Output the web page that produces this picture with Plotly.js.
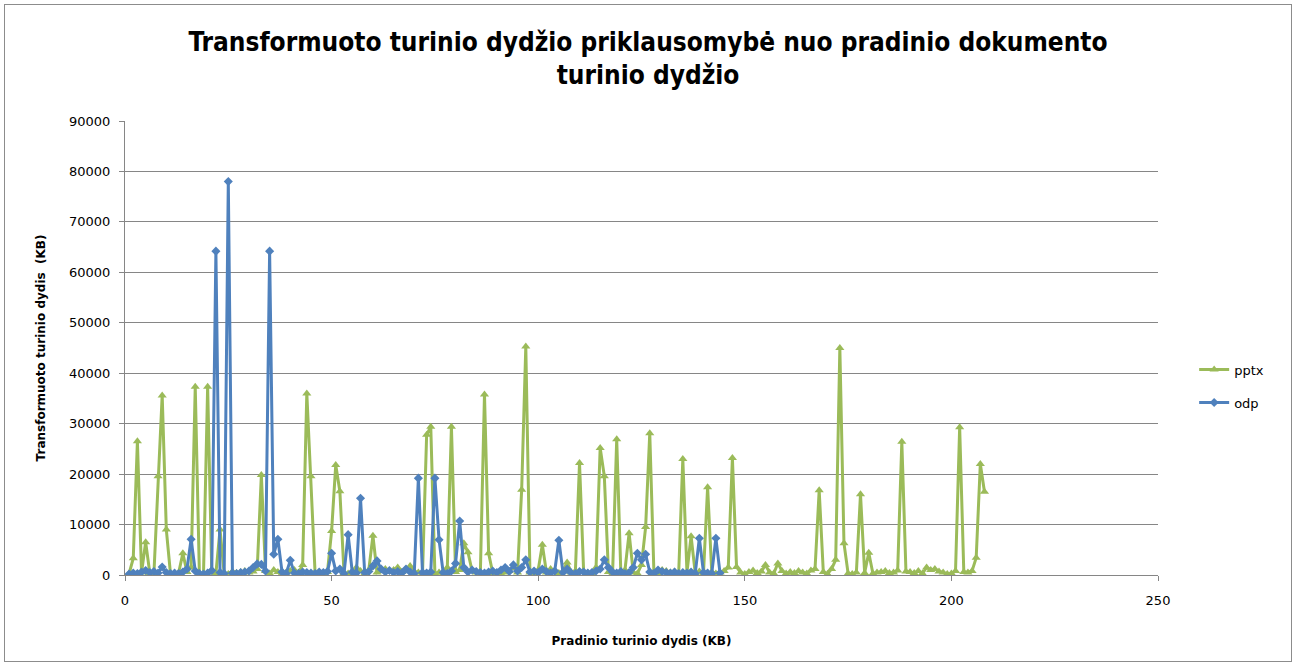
<!DOCTYPE html>
<html>
<head>
<meta charset="utf-8">
<script src="https://cdn.plot.ly/plotly-3.0.1.min.js"></script>
<style>
  html, body { margin: 0; padding: 0; background: #fff; }
  #chart { width: 1296px; height: 665px; }
  #frame { position: absolute; left: 4px; top: 4px; width: 1286px; height: 656px; border: 1px solid #8c8c8c; pointer-events: none; }
</style>
</head>
<body>
<div id="chart"></div>
<div id="frame"></div>
<script>
const seriesNames = ["pptx", "odp"];
const xStart = 1;
const pptxValues = [
  300, 3300, 26500, 500, 6500, 400, 300, 19600, 35600, 9000,
  300, 200, 500, 4300, 600, 1500, 37300, 300, 200, 37300,
  500, 300, 9000, 300, 200, 700, 400, 600, 800, 500,
  700, 1200, 19800, 800, 300, 1000, 600, 300, 500, 800,
  1000, 500, 2000, 36000, 19600, 500, 300, 200, 600, 8700,
  21800, 16600, 400, 300, 500, 1500, 800, 300, 1000, 7800,
  500, 800, 1200, 600, 1000, 1500, 600, 1200, 1800, 700,
  500, 300, 27800, 29400, 300, 500, 200, 1500, 29400, 600,
  1000, 6300, 4500, 800, 500, 300, 35800, 4300, 400, 300,
  200, 500, 800, 1500, 500, 16900, 45300, 500, 300, 1000,
  6000, 500, 1200, 800, 400, 700, 2500, 500, 800, 22200,
  600, 400, 300, 1500, 25200, 19600, 600, 300, 26900, 400,
  1000, 8300, 500, 300, 2000, 9500, 28100, 600, 300, 1000,
  800, 500, 700, 400, 23000, 500, 7700, 400, 700, 300,
  17400, 600, 300, 500, 800, 1500, 23200, 1600, 500, 200,
  600, 900, 400, 700, 2000, 500, 300, 2300, 800, 300,
  600, 400, 800, 500, 300, 900, 1200, 16800, 600, 200,
  1200, 3000, 45000, 6300, 300, 200, 500, 16000, 400, 4400,
  300, 500, 600, 800, 400, 500, 900, 26400, 700, 600,
  400, 800, 300, 1500, 1000, 1200, 700, 500, 200, 300,
  800, 29300, 600, 500, 800, 3400, 22000, 16500
];
const odpValues = [
  200, 400, 300, 600, 900, 500, 700, 400, 1600, 500,
  300, 400, 300, 600, 1200, 7100, 800, 300, 200, 400,
  900, 64200, 500, 300, 78000, 400, 300, 500, 600, 800,
  1500, 2200, 2100, 800, 64200, 4100, 7100, 600, 300, 2900,
  400, 300, 600, 500, 400, 300, 600, 500, 700, 4300,
  800, 1200, 300, 8000, 600, 400, 15200, 500, 700, 1800,
  2800, 1200, 600, 900, 500, 700, 400, 1200, 600, 300,
  19200, 500, 400, 600, 19200, 7000, 500, 300, 800, 2300,
  10700, 1500, 600, 1000, 700, 500, 400, 600, 800, 500,
  1000, 1500, 700, 2000, 800, 1500, 3000, 600, 800, 500,
  1200, 700, 400, 800, 6900, 500, 1200, 400, 300, 700,
  600, 400, 500, 800, 1200, 3000, 1500, 600, 400, 700,
  300, 500, 1500, 4300, 3000, 4100, 600, 300, 1000, 700,
  500, 400, 600, 300, 500, 400, 600, 300, 7300, 500,
  400, 300, 7300, 400
];
const yTicks = [0, 10000, 20000, 30000, 40000, 50000, 60000, 70000, 80000, 90000];
const xTicks = [0, 50, 100, 150, 200, 250];

const titleText = "Transformuoto turinio dydžio priklausomybė nuo pradinio dokumento<br>turinio dydžio";
const xTitle = "Pradinio turinio dydis (KB)";
const yTitle = "Transformuoto turinio dydis  (KB)";

const traces = [
  {
    name: seriesNames[0], type: "scatter", mode: "lines+markers", legendgroup: "g1",
    x0: xStart, dx: 1, y: pptxValues,
    line: { color: "#9BBB59", width: 3 },
    marker: { symbol: "triangle-up", size: 8, color: "#9BBB59" }
  },
  {
    name: seriesNames[1], type: "scatter", mode: "lines+markers", legendgroup: "g2",
    x0: xStart, dx: 1, y: odpValues,
    line: { color: "#4F81BD", width: 3 },
    marker: { symbol: "diamond", size: 7, color: "#4F81BD" }
  }
];

const layout = {
  width: 1296, height: 665,
  paper_bgcolor: "#fff", plot_bgcolor: "#fff",
  margin: { l: 125, r: 138, t: 121, b: 90 },
  showlegend: true,
  title: {
    text: titleText,
    font: { family: "DejaVu Sans Condensed, DejaVu Sans", size: 26, color: "#000", weight: "bold" },
    x: 0.5, xanchor: "center", y: 0.924, yanchor: "top"
  },
  font: { family: "DejaVu Sans, Verdana, sans-serif", size: 11, color: "#000" },
  xaxis: {
    range: [0, 250], tickvals: xTicks, ticktext: xTicks.map(String),
    showgrid: false, zeroline: false,
    showline: true, linecolor: "#868686", linewidth: 1,
    ticks: "outside", ticklen: 5, tickcolor: "#868686",
    ticklabelstandoff: 8,
    tickfont: { size: 13 },
    title: { text: xTitle, font: { size: 12, weight: "bold" }, standoff: 30 }
  },
  yaxis: {
    range: [0, 90000], tickvals: yTicks, ticktext: yTicks.map(String),
    showgrid: true, gridcolor: "#868686", gridwidth: 1, zeroline: false,
    showline: true, linecolor: "#868686", linewidth: 1,
    ticks: "outside", ticklen: 5, tickcolor: "#868686",
    ticklabelstandoff: 6,
    tickfont: { size: 13 },
    title: { text: yTitle, font: { size: 12, weight: "bold" }, standoff: 20 }
  },
  legend: {
    x: 1.035, y: 0.416, xanchor: "left", yanchor: "middle",
    font: { size: 13 }, tracegroupgap: 13, itemwidth: 30,
    bgcolor: "rgba(0,0,0,0)"
  }
};

Plotly.newPlot("chart", traces, layout, { displayModeBar: false, staticPlot: true });
</script>
</body>
</html>
